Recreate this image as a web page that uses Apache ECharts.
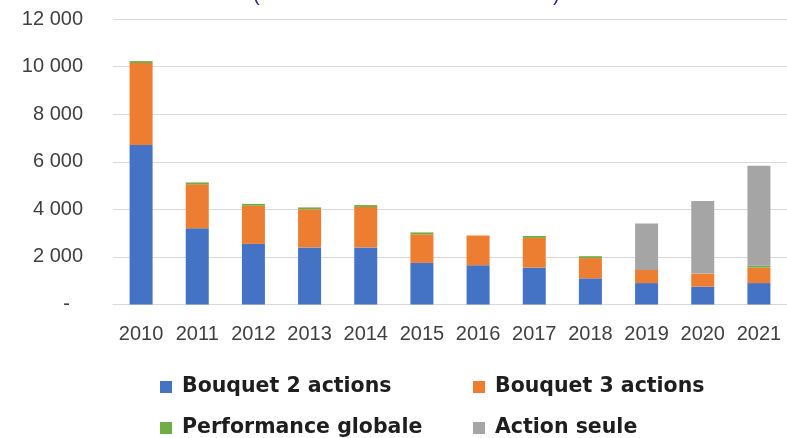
<!DOCTYPE html>
<html>
<head>
<meta charset="utf-8">
<script src="https://cdn.jsdelivr.net/npm/echarts@6/dist/echarts.min.js"></script>
<style>
  html, body { margin: 0; padding: 0; background: #fff; }
  #chart { width: 787px; height: 438px; }
</style>
</head>
<body>
<div id="chart"></div>
<script>
var years = ['2010', '2011', '2012', '2013', '2014', '2015', '2016', '2017', '2018', '2019', '2020', '2021'];
var bouquet2 = [6700, 3200, 2550, 2400, 2400, 1750, 1650, 1550, 1100, 900, 750, 900];
var bouquet3 = [3450, 1850, 1600, 1600, 1700, 1200, 1250, 1250, 850, 550, 550, 650];
var perfGlobale = [80, 80, 80, 80, 80, 80, 0, 80, 80, 0, 0, 80];
var actionSeule = [0, 0, 0, 0, 0, 0, 0, 0, 0, 1950, 3050, 4200];

var seriesNames = ['Bouquet 2 actions', 'Bouquet 3 actions', 'Performance globale', 'Action seule'];
var seriesColors = ['#4472C4', '#ED7D31', '#70AD47', '#A5A5A5'];
var seriesData = [bouquet2, bouquet3, perfGlobale, actionSeule];

// position des 4 entrées de légende (2 colonnes x 2 lignes)
var legendPos = [[160, 375], [473, 375], [160, 416], [473, 416]];

var chart = echarts.init(document.getElementById('chart'));

function fmtNum(v) {
  if (v === 0) return '{z|-}';
  return String(v).replace(/\B(?=(\d{3})+(?!\d))/g, ' ');
}

var legends = [];
for (var k = 0; k < 4; k++) {
  legends.push({
    data: [seriesNames[k]],
    left: legendPos[k][0],
    top: legendPos[k][1],
    padding: 0,
    icon: 'rect',
    itemWidth: 12,
    itemHeight: 12,
    selectedMode: false,
    textStyle: {
      fontFamily: 'DejaVu Sans',
      fontWeight: 'bold',
      fontSize: 20.5,
      color: '#1e1e1e',
      padding: [0, 0, 0, 5],
      lineHeight: 24
    }
  });
}

var series = [];
for (var s = 0; s < 4; s++) {
  series.push({
    name: seriesNames[s],
    type: 'bar',
    stack: 'total',
    barWidth: 23,
    itemStyle: { color: seriesColors[s] },
    data: seriesData[s]
  });
}

var option = {
  animation: false,
  color: seriesColors,
  legend: legends,
  grid: {
    left: 113,
    top: 19,
    width: 680,
    height: 285.5
  },
  graphic: [
    { type: 'text', left: 253, top: -15, style: { text: '(', fontSize: 20, fontFamily: 'Liberation Sans', fill: '#1f1fa6' } },
    { type: 'text', left: 553, top: -15, style: { text: ')', fontSize: 20, fontFamily: 'Liberation Sans', fill: '#1f1fa6' } }
  ],
  xAxis: {
    type: 'category',
    data: years,
    axisLine: { lineStyle: { color: '#D9D9D9', width: 1 } },
    axisTick: { show: false },
    axisLabel: {
      margin: 20,
      fontFamily: 'Liberation Sans',
      fontSize: 20,
      color: '#404040',
      interval: 0
    }
  },
  yAxis: {
    type: 'value',
    min: 0,
    max: 12000,
    interval: 2000,
    axisLine: { show: false },
    axisTick: { show: false },
    splitLine: { lineStyle: { color: '#D9D9D9', width: 1 } },
    axisLabel: {
      margin: 30,
      fontFamily: 'Liberation Sans',
      fontSize: 20,
      color: '#404040',
      formatter: fmtNum,
      rich: {
        z: { fontFamily: 'Liberation Sans', fontSize: 20, color: '#404040', padding: [0, 13, 0, 0] }
      }
    }
  },
  series: series
};

chart.setOption(option);
</script>
</body>
</html>
